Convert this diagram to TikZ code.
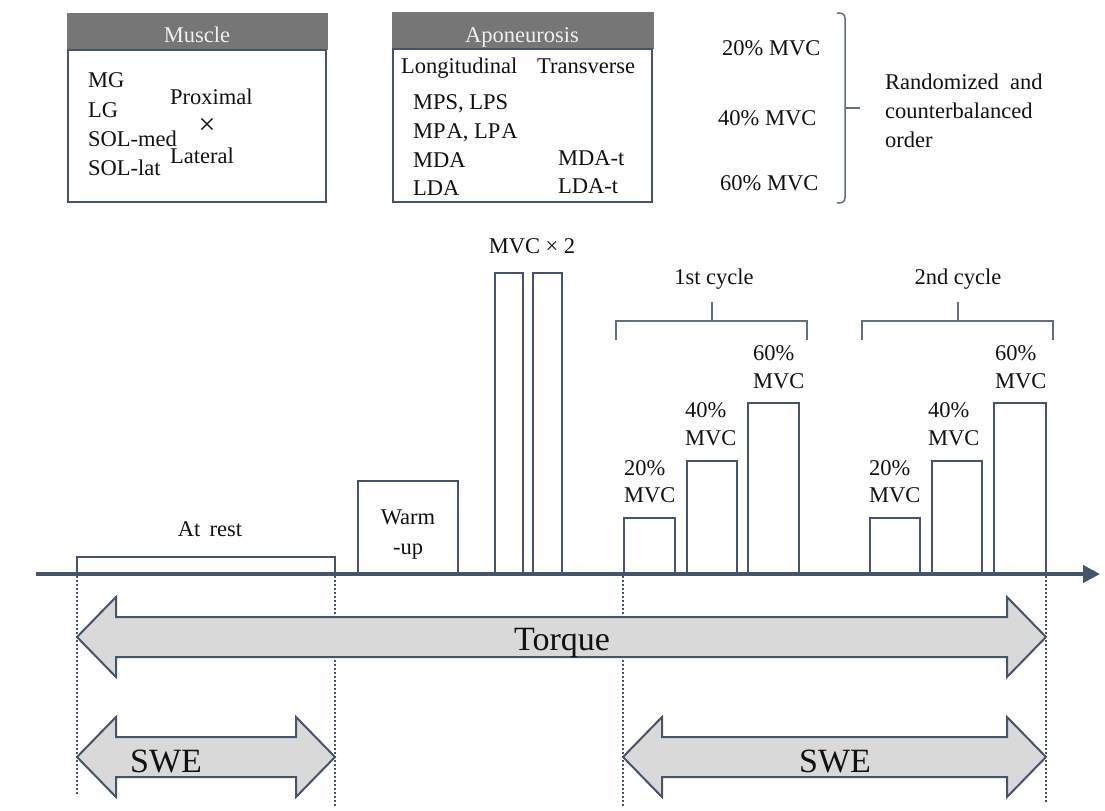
\documentclass[tikz,border=0pt]{standalone}
\usepackage{fontspec}
\setmainfont{Liberation Serif}
\usetikzlibrary{arrows.meta}
\definecolor{dkb}{HTML}{44546A}
\definecolor{hdr}{HTML}{767676}
\definecolor{arrfill}{HTML}{D9D9D9}
\definecolor{txtc}{HTML}{111111}
\tikzset{
  txt/.style={font=\fontsize{22.5bp}{29bp}\selectfont, text=txtc, inner sep=0pt, anchor=base west},
  ctxt/.style={txt, anchor=base},
  hdrtxt/.style={ctxt, text=white!94!black},
  bigtxt/.style={font=\fontsize{34bp}{40bp}\selectfont, text=txtc, inner sep=0pt, anchor=base},
  bodybox/.style={draw=dkb, line width=2bp, fill=white},
  hdrbox/.style={fill=hdr, draw=hdr, line width=1bp},
  bar/.style={draw=dkb, line width=2.5bp},
  brk/.style={draw=dkb!85!white, line width=1.5bp},
  dotl/.style={draw=dkb, line width=2bp, dash pattern=on 2bp off 2bp},
  dbl/.style={draw=dkb, line width=2bp, fill=arrfill, line join=miter},
  axis/.style={draw=dkb, line width=4bp, -{Triangle[length=17bp,width=17bp]}}
}
\begin{document}
\begin{tikzpicture}[x=1bp,y=-1bp]
\useasboundingbox (0,0) rectangle (1105,811);

% ---------- Muscle box ----------
\fill[hdrbox] (67,14) rectangle (327,50);
\draw[bodybox] (68,50) rectangle (326,202);
\node[hdrtxt] (muscleh) at (197,43) {Muscle};
\node[txt] (mg) at (88,88) {MG};
\node[txt] (lg) at (88,117) {LG};
\node[txt] (solmed) at (88,146) {SOL-med};
\node[txt] (sollat) at (88,175) {SOL-lat};
\node[font=\fontsize{30bp}{30bp}\selectfont, text=txtc, inner sep=0pt] (times) at (207,126) {×};
\node[txt] (prox) at (170,105) {Proximal};
\node[txt] (lat) at (170,163) {Lateral};

% ---------- Aponeurosis box ----------
\fill[hdrbox] (392,13) rectangle (653,49);
\draw[bodybox] (393,49) rectangle (652,202);
\node[hdrtxt] (aponh) at (522,43) {Aponeurosis};
\node[txt] (longi) at (401,74) {Longitudinal};
\node[txt] (trans) at (537,74) {Transverse};
\node[txt] (mps) at (413,110) {MPS, LPS};
\node[txt] (mpa) at (413,138) {MP\kern1bp A, LP\kern1bp A};
\node[txt] (mda) at (413,167) {MDA};
\node[txt] (lda) at (413,195) {LDA};
\node[txt] (mdat) at (558,165) {MDA-t};
\node[txt] (ldat) at (558,193) {LDA-t};

% ---------- randomized order ----------
\node[txt] (r20) at (722,56) {20\% MVC};
\node[txt] (r40) at (718,125) {40\% MVC};
\node[txt] (r60) at (720,190) {60\% MVC};
\draw[brk] (837,13) .. controls (843,13) and (845,14) .. (845,19) -- (845,197)
  .. controls (845,202) and (843,203) .. (837,203);
\coordinate (bracemid) at (845,108);
\coordinate (bracetip) at (860,108);
\draw[brk] (bracemid) -- (bracetip);
\node[txt] (rand1) at (885,90) {Randomized\ \ and};
\node[txt] (rand2) at (885,118) {counterbalanced};
\node[txt] (rand3) at (885,147) {order};

% ---------- timeline ----------
\coordinate (axstart) at (36,574);
\coordinate (axend) at (1100,574);
\draw[axis] (axstart) -- (axend);

% at rest
\draw[bar] (77,574) -- (77,557) -- (335,557) -- (335,574);
\node[ctxt] (rest) at (210,536) {At\ \,rest};

% warm-up
\draw[bar] (358,574) -- (358,481) -- (458,481) -- (458,574);
\node[ctxt] (warm) at (408,524) {Warm};
\node[ctxt] (up) at (408,554) {-up};

% MVC x2
\draw[bar] (495,574) -- (495,273) -- (523,273) -- (523,574);
\draw[bar] (533,574) -- (533,273) -- (562,273) -- (562,574);
\node[ctxt] (mvc2) at (532,253) {MVC × 2};

% 1st cycle
\draw[bar] (624,574) -- (624,518) -- (675,518) -- (675,574);
\draw[bar] (687,574) -- (687,461) -- (737,461) -- (737,574);
\draw[bar] (748,574) -- (748,403) -- (799,403) -- (799,574);
\node[txt] (a20a) at (624,475) {20\%};
\node[txt] (a20b) at (624,502) {MVC};
\node[txt] (a40a) at (685,417) {40\%};
\node[txt] (a40b) at (685,445) {MVC};
\node[txt] (a60a) at (753,360) {60\%};
\node[txt] (a60b) at (753,388) {MVC};
\draw[brk] (616,340) -- (616,321) -- (807,321) -- (807,340);
\draw[brk] (712,321) -- (712,302);
\node[ctxt] (cyc1) at (714,284) {1st cycle};

% 2nd cycle
\draw[bar] (870,574) -- (870,518) -- (920,518) -- (920,574);
\draw[bar] (932,574) -- (932,461) -- (982,461) -- (982,574);
\draw[bar] (994,574) -- (994,403) -- (1046,403) -- (1046,574);
\node[txt] (b20a) at (869,475) {20\%};
\node[txt] (b20b) at (869,502) {MVC};
\node[txt] (b40a) at (928,417) {40\%};
\node[txt] (b40b) at (928,445) {MVC};
\node[txt] (b60a) at (995,360) {60\%};
\node[txt] (b60b) at (995,388) {MVC};
\draw[brk] (862,340) -- (862,321) -- (1053,321) -- (1053,340);
\draw[brk] (958,321) -- (958,302);
\node[ctxt] (cyc2) at (958,284) {2nd cycle};

% dotted guides
\draw[dotl] (77,576) -- (77,796);
\draw[dotl] (335,576) -- (335,808);
\draw[dotl] (623,576) -- (623,808);
\draw[dotl] (1046,576) -- (1046,802);

% double arrows
\draw[dbl] (77,637) -- (116,597) -- (116,617) -- (1007,617) -- (1007,597) -- (1046,637)
  -- (1007,677) -- (1007,657) -- (116,657) -- (116,677) -- cycle;
\node[bigtxt] (torque) at (562,650) {Torque};

\draw[dbl] (77,757) -- (116,717) -- (116,737) -- (296,737) -- (296,717) -- (335,757)
  -- (296,797) -- (296,777) -- (116,777) -- (116,797) -- cycle;
\node[bigtxt] (swe1) at (166,772) {SWE};

\draw[dbl] (623,757) -- (662,717) -- (662,737) -- (1007,737) -- (1007,717) -- (1046,757)
  -- (1007,797) -- (1007,777) -- (662,777) -- (662,797) -- cycle;
\node[bigtxt] (swe2) at (835,772) {SWE};
\end{tikzpicture}
\end{document}
